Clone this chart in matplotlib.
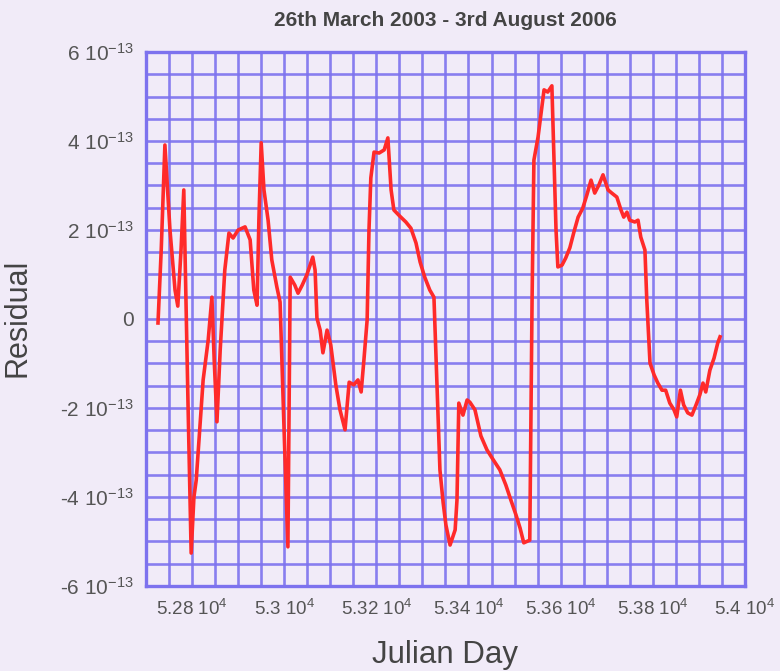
import numpy as np
import matplotlib
matplotlib.use("Agg")
import matplotlib.pyplot as plt
from matplotlib.ticker import FixedLocator, MultipleLocator

plt.rcParams['font.family'] = ['Liberation Sans', 'DejaVu Sans']
plt.rcParams['mathtext.default'] = 'regular'

# Residual time series (Julian day, residual in units of 1e-13)
julian_day = [
    52726, 52733, 52741, 52752, 52763, 52769, 52776, 52782, 52791, 52798,
    52804, 52809, 52824, 52835, 52843, 52848, 52854, 52861, 52871, 52880,
    52889, 52900, 52915, 52926, 52934, 52941, 52945, 52950, 52956, 52965,
    52973, 52984, 52991, 52999, 53008, 53013, 53023, 53030, 53039, 53049,
    53062, 53067, 53071, 53078, 53084, 53093, 53101, 53112, 53121, 53132,
    53141, 53151, 53160, 53167, 53173, 53180, 53184, 53188, 53195, 53206,
    53217, 53225, 53232, 53238, 53251, 53264, 53275, 53286, 53295, 53305,
    53316, 53325, 53332, 53338, 53345, 53351, 53360, 53371, 53375, 53379,
    53388, 53397, 53403, 53414, 53427, 53440, 53451, 53468, 53481, 53492,
    53503, 53512, 53520, 53533, 53538, 53542, 53551, 53557, 53564, 53572,
    53581, 53585, 53590, 53594, 53603, 53611, 53620, 53629, 53638, 53648,
    53657, 53666, 53674, 53683, 53692, 53703, 53711, 53722, 53731, 53737,
    53744, 53750, 53761, 53768, 53774, 53783, 53787, 53794, 53803, 53811,
    53820, 53828, 53837, 53846, 53852, 53860, 53867, 53876, 53885, 53894,
    53902, 53909, 53915, 53924, 53933, 53941, 53946,
]
residual_e13 = [
    -0.09, 1.55, 3.91, 2.00, 0.65, 0.29, 1.55, 2.90, -1.82, -5.26,
    -4.00, -3.62, -1.37, -0.47, 0.49, -0.92, -2.31, -0.70, 1.10, 1.93,
    1.82, 2.00, 2.07, 1.78, 0.65, 0.31, 2.22, 3.96, 2.90, 2.22,
    1.33, 0.72, 0.38, -2.27, -5.12, 0.94, 0.76, 0.58, 0.76, 0.99,
    1.39, 1.10, 0.02, -0.25, -0.76, -0.25, -0.58, -1.48, -2.04, -2.49,
    -1.42, -1.48, -1.37, -1.64, -0.92, -0.02, 2.00, 3.17, 3.75, 3.73,
    3.80, 4.07, 2.90, 2.45, 2.31, 2.18, 2.04, 1.71, 1.28, 0.94,
    0.65, 0.49, -1.60, -3.39, -4.13, -4.63, -5.08, -4.74, -4.07, -1.89,
    -2.16, -1.82, -1.87, -2.04, -2.63, -2.94, -3.12, -3.39, -3.73, -4.07,
    -4.40, -4.70, -5.03, -4.97, 0.43, 3.57, 4.09, 4.58, 5.15, 5.10,
    5.24, 3.80, 2.00, 1.17, 1.21, 1.37, 1.60, 1.96, 2.29, 2.49,
    2.79, 3.12, 2.83, 3.01, 3.24, 2.90, 2.83, 2.74, 2.45, 2.29,
    2.40, 2.22, 2.18, 2.22, 1.84, 1.55, 0.43, -0.99, -1.26, -1.44,
    -1.60, -1.60, -1.89, -2.04, -2.20, -1.60, -1.93, -2.11, -2.16, -1.93,
    -1.71, -1.44, -1.64, -1.15, -0.88, -0.54, -0.40,
]

x_ticks = [52800, 53000, 53200, 53400, 53600, 53800, 54000]
x_tick_labels = ["5.28 10$^4$", "5.3 10$^4$", "5.32 10$^4$", "5.34 10$^4$",
                 "5.36 10$^4$", "5.38 10$^4$", "5.4 10$^4$"]
y_ticks = [-6e-13, -4e-13, -2e-13, 0, 2e-13, 4e-13, 6e-13]
y_tick_labels = ["-6 10$^{-13}$", "-4 10$^{-13}$", "-2 10$^{-13}$", "0",
                 "2 10$^{-13}$", "4 10$^{-13}$", "6 10$^{-13}$"]

bg = "#f1ebf8"
grid_col = "#7d72ee"
label_col = "#555555"

fig = plt.figure(figsize=(7.8, 6.71), dpi=100, facecolor=bg)
ax = fig.add_axes([0.1872, 0.1267, 0.7678, 0.7958])
ax.set_facecolor(bg)

x = np.array(julian_day, dtype=float)
y = np.array(residual_e13) * 1e-13
ax.plot(x, y, color="#ff2a2a", lw=2.6, solid_joinstyle="round", zorder=3)

ax.set_xlim(52700, 54000)
ax.set_ylim(-6e-13, 6e-13)

ax.xaxis.set_major_locator(FixedLocator(x_ticks))
ax.set_xticklabels(x_tick_labels)
ax.yaxis.set_major_locator(FixedLocator(y_ticks))
ax.set_yticklabels(y_tick_labels)
ax.xaxis.set_minor_locator(MultipleLocator(50))
ax.yaxis.set_minor_locator(MultipleLocator(0.5e-13))

ax.grid(which="both", color=grid_col, lw=1.9, alpha=0.9, zorder=1)
ax.set_axisbelow(True)
ax.tick_params(which="both", length=0)
ax.tick_params(axis="x", labelsize=13.5, labelcolor=label_col, pad=9)
ax.tick_params(axis="y", labelsize=15, labelcolor=label_col, pad=9)

for s in ax.spines.values():
    s.set_color(grid_col)
    s.set_linewidth(2.4)

fig.text(0.571, 1 - 20 / 671, "26th March 2003 - 3rd August 2006",
         fontsize=15, fontweight="bold", color="#444444",
         ha="center", va="center")
fig.text(0.571, 1 - 655 / 671, "Julian Day", fontsize=22.5,
         color="#444444", ha="center", va="center")
fig.text(18 / 780, 1 - 318 / 671, "Residual", fontsize=22,
         color="#444444", ha="center", va="center", rotation=90)

fig.savefig("out.png", dpi=100, facecolor=bg)
